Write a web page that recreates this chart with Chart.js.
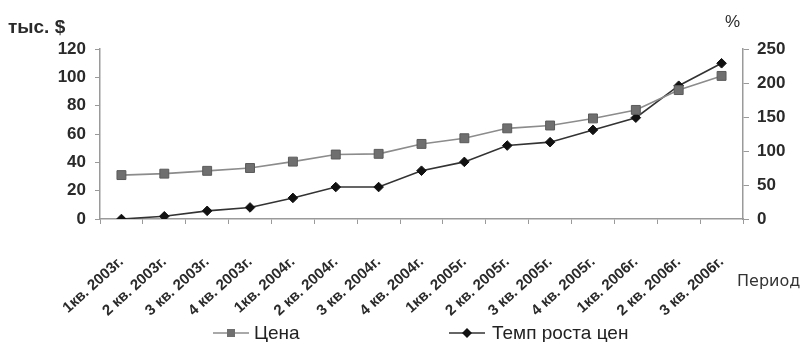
<!DOCTYPE html>
<html>
<head>
<meta charset="utf-8">
<script src="https://cdn.jsdelivr.net/npm/chart.js"></script>
<style>
  body { margin: 0; background: #fff; }
  #box { width: 805px; height: 342px; }
</style>
</head>
<body>
<div id="box"><canvas id="myChart" width="805" height="342"></canvas></div>
<script>
// data
const periods = ['1кв. 2003г.', '2 кв. 2003г.', '3 кв. 2003г.', '4 кв. 2003г.',
    '1кв. 2004г.', '2 кв. 2004г.', '3 кв. 2004г.', '4 кв. 2004г.',
    '1кв. 2005г.', '2 кв. 2005г.', '3 кв. 2005г.', '4 кв. 2005г.',
    '1кв. 2006г.', '2 кв. 2006г.', '3 кв. 2006г.'];
const price = [31, 32, 34, 36, 40.5, 45.5, 46, 53, 57, 64, 66, 71, 77, 91, 101];
const growth = [0, 4, 12, 17, 31, 47, 47, 71, 84, 108, 113, 131, 149, 196, 229];
const leftTicks = [0, 20, 40, 60, 80, 100, 120];
const rightTicks = [0, 50, 100, 150, 200, 250];

const tickFont = {family: 'Liberation Sans, Arial', size: 17, weight: 'bold'};

// titles and legend drawn on the canvas
const extras = {
    id: 'extras',
    afterDraw(chart) {
        const ctx = chart.ctx;
        ctx.save();
        ctx.fillStyle = '#2a2a2a';
        ctx.font = 'bold 19px "Liberation Sans", Arial';
        ctx.textBaseline = 'alphabetic';
        ctx.fillText('тыс. $', 8, 33);
        ctx.font = '17px "Liberation Sans", Arial';
        ctx.fillText('%', 725, 27);
        ctx.font = '16px "DejaVu Sans", Arial';
        ctx.fillStyle = '#333';
        ctx.fillText('Период', 737, 286);

        // legend
        const items = [
            {ds: chart.data.datasets[0], x: 213, tx: 254},
            {ds: chart.data.datasets[1], x: 449, tx: 492}
        ];
        const y = 333;
        items.forEach(it => {
            ctx.strokeStyle = it.ds.borderColor;
            ctx.lineWidth = 1.5;
            ctx.beginPath();
            ctx.moveTo(it.x, y);
            ctx.lineTo(it.x + 36, y);
            ctx.stroke();
            ctx.fillStyle = it.ds.pointBackgroundColor;
            const cx = it.x + 18;
            if (it.ds.pointStyle === 'rect') {
                ctx.fillRect(cx - 4, y - 4, 8, 8);
            } else {
                ctx.beginPath();
                ctx.moveTo(cx, y - 5);
                ctx.lineTo(cx + 5, y);
                ctx.lineTo(cx, y + 5);
                ctx.lineTo(cx - 5, y);
                ctx.closePath();
                ctx.fill();
            }
            ctx.fillStyle = '#222';
            ctx.font = '19px "Liberation Sans Narrow", "Liberation Sans", Arial';
            ctx.textBaseline = 'middle';
            ctx.fillText(it.ds.label, it.tx, y + 1);
        });
        ctx.restore();
    }
};

const data = {
    labels: periods,
    datasets: [{
        label: 'Цена',
        data: price,
        yAxisID: 'y',
        borderColor: '#8c8c8c',
        borderWidth: 1.6,
        pointStyle: 'rect',
        pointRadius: 6.3,
        pointBackgroundColor: '#6f6f6f',
        pointBorderColor: '#5a5a5a',
        pointBorderWidth: 1,
        tension: 0
    },
    {
        label: 'Темп роста цен',
        data: growth,
        yAxisID: 'y1',
        borderColor: '#333333',
        borderWidth: 1.6,
        pointStyle: 'rectRot',
        pointRadius: 4.8,
        pointBackgroundColor: '#111111',
        pointBorderColor: '#111111',
        pointBorderWidth: 1,
        tension: 0
    }]
};

const config = {
    type: 'line',
    data: data,
    options: {
        responsive: false,
        animation: false,
        layout: {padding: {top: 49, bottom: 0, left: 0, right: 0}},
        plugins: {
            legend: {display: false},
            tooltip: {enabled: false}
        },
        scales: {
            x: {
                offset: true,
                grid: {display: true, offset: true, drawOnChartArea: false, color: '#9a9a9a', tickLength: 5},
                border: {color: '#9a9a9a', width: 1.5},
                ticks: {
                    color: '#2a2a2a',
                    font: {family: 'Liberation Sans, Arial', size: 15, weight: 'bold'},
                    minRotation: 42, maxRotation: 42,
                    autoSkip: false,
                    padding: 29
                },
                afterFit(scale) { scale.height = 123; }
            },
            y: {
                position: 'left',
                min: 0, max: 120,
                afterBuildTicks(scale) { scale.ticks = leftTicks.map(v => ({value: v})); },
                grid: {display: true, drawOnChartArea: false, color: '#9a9a9a', tickLength: 5},
                border: {color: '#9a9a9a', width: 1.5},
                ticks: {color: '#2a2a2a', font: tickFont, padding: 9},
                afterFit(scale) { scale.width = 100; }
            },
            y1: {
                position: 'right',
                min: 0, max: 250,
                afterBuildTicks(scale) { scale.ticks = rightTicks.map(v => ({value: v})); },
                grid: {display: true, drawOnChartArea: false, color: '#9a9a9a', tickLength: 6},
                border: {color: '#9a9a9a', width: 1.5},
                ticks: {color: '#2a2a2a', font: tickFont, padding: 8},
                afterFit(scale) { scale.width = 62; }
            }
        }
    },
    plugins: [extras]
};

const myChart = new Chart(document.getElementById('myChart'), config);
</script>
</body>
</html>
